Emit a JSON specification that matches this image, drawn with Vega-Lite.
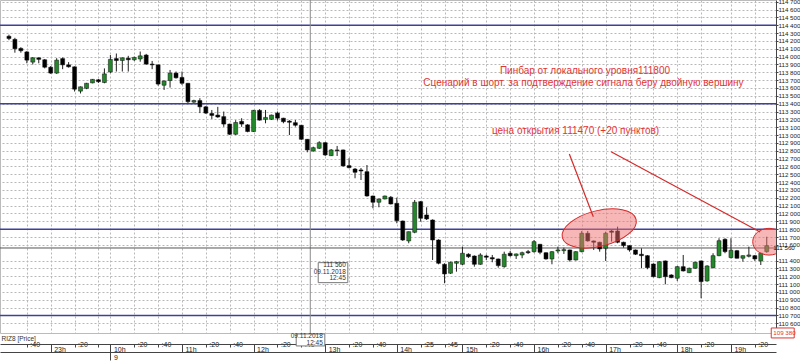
{
  "$schema": "https://vega.github.io/schema/vega-lite/v6.json",
  "width": 776,
  "height": 333,
  "autosize": {"type": "none"},
  "padding": {"left": 0, "top": 0, "right": 24, "bottom": 30},
  "background": "white",
  "config": {"view": {"stroke": "#bbbbbb"}, "font": "Liberation Sans", "axis": {"labelOverlap": false, "labelFlush": false}},
  "datasets": {
    "candles": [
      {"i":0,"o":114260,"h":114280,"l":114210,"c":114230},
      {"i":1,"o":114220,"h":114240,"l":114050,"c":114100},
      {"i":2,"o":114105,"h":114120,"l":114050,"c":114075},
      {"i":3,"o":114060,"h":114070,"l":113915,"c":113955},
      {"i":4,"o":113930,"h":113995,"l":113900,"c":113985},
      {"i":5,"o":113985,"h":113990,"l":113915,"c":113965},
      {"i":6,"o":113960,"h":113970,"l":113850,"c":113865},
      {"i":7,"o":113865,"h":113880,"l":113780,"c":113790},
      {"i":8,"o":113790,"h":113980,"l":113780,"c":113955},
      {"i":9,"o":113975,"h":113990,"l":113840,"c":113895},
      {"i":10,"o":113895,"h":113930,"l":113860,"c":113870},
      {"i":11,"o":113870,"h":113875,"l":113555,"c":113585},
      {"i":12,"o":113560,"h":113620,"l":113530,"c":113615},
      {"i":13,"o":113595,"h":113665,"l":113585,"c":113660},
      {"i":14,"o":113665,"h":113715,"l":113660,"c":113710},
      {"i":15,"o":113705,"h":113715,"l":113665,"c":113680},
      {"i":16,"o":113670,"h":113850,"l":113660,"c":113780},
      {"i":17,"o":113805,"h":114020,"l":113790,"c":113965},
      {"i":18,"o":113975,"h":114040,"l":113810,"c":113950},
      {"i":19,"o":113950,"h":113990,"l":113810,"c":113985},
      {"i":20,"o":113980,"h":114010,"l":113810,"c":113960},
      {"i":21,"o":113960,"h":114000,"l":113945,"c":113990},
      {"i":22,"o":113970,"h":114065,"l":113935,"c":114010},
      {"i":23,"o":114020,"h":114035,"l":113895,"c":113905},
      {"i":24,"o":113905,"h":113945,"l":113840,"c":113895},
      {"i":25,"o":113895,"h":113900,"l":113630,"c":113650},
      {"i":26,"o":113635,"h":113695,"l":113575,"c":113690},
      {"i":27,"o":113695,"h":113830,"l":113605,"c":113790},
      {"i":28,"o":113790,"h":113810,"l":113720,"c":113730},
      {"i":29,"o":113735,"h":113810,"l":113640,"c":113660},
      {"i":30,"o":113660,"h":113665,"l":113405,"c":113425},
      {"i":31,"o":113420,"h":113450,"l":113410,"c":113440},
      {"i":32,"o":113440,"h":113470,"l":113280,"c":113360},
      {"i":33,"o":113360,"h":113370,"l":113270,"c":113280},
      {"i":34,"o":113275,"h":113320,"l":113205,"c":113250},
      {"i":35,"o":113255,"h":113360,"l":113220,"c":113230},
      {"i":36,"o":113235,"h":113300,"l":113105,"c":113140},
      {"i":37,"o":113140,"h":113145,"l":113000,"c":113010},
      {"i":38,"o":113010,"h":113190,"l":113000,"c":113160},
      {"i":39,"o":113175,"h":113215,"l":113105,"c":113140},
      {"i":40,"o":113130,"h":113140,"l":113035,"c":113045},
      {"i":41,"o":113045,"h":113320,"l":113040,"c":113315},
      {"i":42,"o":113315,"h":113330,"l":113185,"c":113190},
      {"i":43,"o":113200,"h":113320,"l":113150,"c":113225},
      {"i":44,"o":113200,"h":113260,"l":113195,"c":113255},
      {"i":45,"o":113280,"h":113300,"l":113185,"c":113215},
      {"i":46,"o":113215,"h":113220,"l":113150,"c":113170},
      {"i":47,"o":113178,"h":113190,"l":113000,"c":113163},
      {"i":48,"o":113158,"h":113192,"l":113107,"c":113125},
      {"i":49,"o":113125,"h":113128,"l":112937,"c":112946},
      {"i":50,"o":112946,"h":112950,"l":112780,"c":112810},
      {"i":51,"o":112797,"h":112852,"l":112788,"c":112839},
      {"i":52,"o":112831,"h":112921,"l":112822,"c":112903},
      {"i":53,"o":112903,"h":112910,"l":112733,"c":112746},
      {"i":54,"o":112737,"h":112822,"l":112733,"c":112810},
      {"i":55,"o":112810,"h":112861,"l":112733,"c":112801},
      {"i":56,"o":112810,"h":112815,"l":112597,"c":112606},
      {"i":57,"o":112610,"h":112704,"l":112576,"c":112584},
      {"i":58,"o":112567,"h":112580,"l":112449,"c":112525},
      {"i":59,"o":112555,"h":112580,"l":112427,"c":112542},
      {"i":60,"o":112533,"h":112618,"l":112214,"c":112223},
      {"i":61,"o":112223,"h":112228,"l":112066,"c":112143},
      {"i":62,"o":112143,"h":112190,"l":112079,"c":112185},
      {"i":63,"o":112185,"h":112228,"l":112180,"c":112223},
      {"i":64,"o":112207,"h":112223,"l":112115,"c":112121},
      {"i":65,"o":112130,"h":112202,"l":111875,"c":111908},
      {"i":66,"o":111904,"h":111910,"l":111650,"c":111662},
      {"i":67,"o":111650,"h":111770,"l":111620,"c":111768},
      {"i":68,"o":111760,"h":112172,"l":111748,"c":112143},
      {"i":69,"o":112151,"h":112160,"l":111896,"c":111939},
      {"i":70,"o":111981,"h":112079,"l":111917,"c":111930},
      {"i":71,"o":111917,"h":111925,"l":111407,"c":111662},
      {"i":72,"o":111662,"h":111670,"l":111352,"c":111365},
      {"i":73,"o":111352,"h":111365,"l":111110,"c":111229},
      {"i":74,"o":111238,"h":111386,"l":111230,"c":111378},
      {"i":75,"o":111365,"h":111395,"l":111258,"c":111386},
      {"i":76,"o":111352,"h":111577,"l":111343,"c":111493},
      {"i":77,"o":111480,"h":111493,"l":111433,"c":111449},
      {"i":78,"o":111458,"h":111465,"l":111322,"c":111352},
      {"i":79,"o":111352,"h":111493,"l":111345,"c":111471},
      {"i":80,"o":111458,"h":111475,"l":111407,"c":111442},
      {"i":81,"o":111437,"h":111471,"l":111378,"c":111420},
      {"i":82,"o":111420,"h":111425,"l":111309,"c":111335},
      {"i":83,"o":111322,"h":111513,"l":111309,"c":111480},
      {"i":84,"o":111493,"h":111522,"l":111449,"c":111462},
      {"i":85,"o":111462,"h":111490,"l":111420,"c":111484},
      {"i":86,"o":111471,"h":111513,"l":111429,"c":111500},
      {"i":87,"o":111513,"h":111535,"l":111484,"c":111500},
      {"i":88,"o":111513,"h":111662,"l":111500,"c":111641},
      {"i":89,"o":111607,"h":111612,"l":111480,"c":111505},
      {"i":90,"o":111500,"h":111505,"l":111411,"c":111420},
      {"i":91,"o":111420,"h":111520,"l":111352,"c":111513},
      {"i":92,"o":111522,"h":111577,"l":111493,"c":111535},
      {"i":93,"o":111526,"h":111564,"l":111484,"c":111539},
      {"i":94,"o":111535,"h":111540,"l":111386,"c":111407},
      {"i":95,"o":111407,"h":111520,"l":111400,"c":111513},
      {"i":96,"o":111513,"h":111777,"l":111505,"c":111748},
      {"i":97,"o":111748,"h":111777,"l":111640,"c":111650},
      {"i":98,"o":111650,"h":111655,"l":111535,"c":111633},
      {"i":99,"o":111633,"h":111640,"l":111513,"c":111548},
      {"i":100,"o":111556,"h":111768,"l":111395,"c":111748},
      {"i":101,"o":111777,"h":111790,"l":111641,"c":111760},
      {"i":102,"o":111777,"h":111832,"l":111620,"c":111633},
      {"i":103,"o":111633,"h":111640,"l":111564,"c":111590},
      {"i":104,"o":111590,"h":111595,"l":111513,"c":111535},
      {"i":105,"o":111535,"h":111540,"l":111470,"c":111480},
      {"i":106,"o":111480,"h":111556,"l":111301,"c":111462},
      {"i":107,"o":111462,"h":111470,"l":111289,"c":111309},
      {"i":108,"o":111356,"h":111365,"l":111186,"c":111194},
      {"i":109,"o":111182,"h":111390,"l":111175,"c":111386},
      {"i":110,"o":111395,"h":111400,"l":111097,"c":111194},
      {"i":111,"o":111216,"h":111225,"l":111175,"c":111182},
      {"i":112,"o":111174,"h":111330,"l":111140,"c":111322},
      {"i":113,"o":111322,"h":111471,"l":111260,"c":111267},
      {"i":114,"o":111245,"h":111310,"l":111240,"c":111301},
      {"i":115,"o":111301,"h":111385,"l":111295,"c":111378},
      {"i":116,"o":111395,"h":111400,"l":110919,"c":111131},
      {"i":117,"o":111140,"h":111340,"l":111130,"c":111331},
      {"i":118,"o":111309,"h":111493,"l":111300,"c":111462},
      {"i":119,"o":111462,"h":111684,"l":111455,"c":111653},
      {"i":120,"o":111671,"h":111684,"l":111493,"c":111513},
      {"i":121,"o":111437,"h":111684,"l":111427,"c":111531},
      {"i":122,"o":111526,"h":111535,"l":111425,"c":111429},
      {"i":123,"o":111429,"h":111465,"l":111386,"c":111462},
      {"i":124,"o":111454,"h":111577,"l":111440,"c":111471},
      {"i":125,"o":111462,"h":111470,"l":111395,"c":111420},
      {"i":126,"o":111395,"h":111500,"l":111343,"c":111493},
      {"i":127,"o":111513,"h":111704,"l":111500,"c":111590}
    ],
    "hlines": [{"v":114400},{"v":113400},{"v":111800},{"v":110700}],
    "texts": [
      {"i":96.53,"p":113823,"t":"Пинбар от локального уровня111800"},
      {"i":96.28,"p":113660,"t":"Сценарий в шорт. за подтверждение сигнала беру двойную вершину"},
      {"i":94.95,"p":113058,"t":"цена открытия 111470 (+20 пунктов)"}
    ],
    "redlines": [
      {"i":93.91,"p":112758,"i2":97.93,"p2":111959},
      {"i":100.91,"p":112788,"i2":125.89,"p2":111764}
    ],
    "ell1": [{"i":98.92,"p":111809}],
    "ell2": [{"i":127.38,"p":111640}],
    "box1": [{"i":51.83,"i2":56.79,"p":111373,"p2":111118}],
    "box1t": [{"i":56.45,"p":111343,"t":"111 560"},{"i":56.45,"p":111258,"t":"09.11.2018"},{"i":56.45,"p":111174,"t":"12:45"}],
    "box2": [{"i":48.14,"i2":52.94,"p":110464,"p2":110311}],
    "box2t": [{"i":52.6,"p":110442,"t":"09.11.2018"},{"i":52.6,"p":110345,"t":"12:45"}],
    "redbox": [{"i":127.75,"i2":131.6,"p":110540,"p2":110413}],
    "redboxt": [{"i":128.1,"p":110476,"t":"109 380"}],
    "crossy": [{"i":128.1,"p":111560,"t":"111 560"}]
  },
  "resolve": {"axis": {"x": "independent", "y": "independent"}},
  "layer": [
    {
      "data": {"name": "hlines"},
      "mark": {"type": "rule", "color": "#40409c", "strokeWidth": 1.5},
      "encoding": {
        "y": {"field": "v", "type": "quantitative",
          "scale": {"domain": [110476, 114722], "nice": false, "zero": false},
          "axis": {
            "orient": "right",
            "values": [110600,110700,110800,110900,111000,111100,111200,111300,111400,111600,111700,111800,111900,112000,112100,112200,112300,112400,112500,112600,112700,112800,112900,113000,113100,113200,113300,113400,113500,113600,113700,113800,113900,114000,114100,114200,114300,114400,114500,114600,114700],
            "labelExpr": "replace(format(datum.value, ',d'), ',', ' ')",
            "grid": true, "gridColor": "#b8b8b8", "gridDash": [2, 2],
            "domainColor": "#444", "tickColor": "#444", "tickSize": 2,
            "labelPadding": 0, "labelFontSize": 6.2, "labelColor": "#222",
            "labelBaseline": "middle", "labelFlush": false, "labelOverlap": false,
            "title": null
          }
        }
      }
    },
    {
      "data": {"values": [{"i": 50.5}]},
      "mark": {"type": "rule", "color": "#8a8a8a", "strokeWidth": 1},
      "encoding": {
        "x": {"field": "i", "type": "quantitative",
          "scale": {"domain": [-0.66, 127.71], "nice": false, "zero": false},
          "axis": {
            "orient": "bottom", "offset": 19, "values": [17], "labelExpr": "'9'",
            "grid": false, "domainColor": "#444", "tickColor": "#444", "tickSize": 8,
            "labelAlign": "left", "labelBaseline": "top", "labelPadding": -7, "labelOffset": 3,
            "labelFontSize": 7, "labelColor": "#222", "title": null
          }
        }
      }
    },
    {
      "data": {"values": [{"v": 111560}]},
      "mark": {"type": "rule", "color": "#555555", "strokeWidth": 1},
      "encoding": {"y": {"field": "v", "type": "quantitative", "scale": {"domain": [110476, 114722], "nice": false, "zero": false}, "axis": null}}
    },
    {
      "data": {"name": "candles"},
      "mark": {"type": "rule", "color": "#222222", "strokeWidth": 1},
      "encoding": {
        "x": {"field": "i", "type": "quantitative", "scale": {"domain": [-0.66, 127.71], "nice": false, "zero": false}, "axis": null},
        "y": {"field": "l", "type": "quantitative", "scale": {"domain": [110476, 114722], "nice": false, "zero": false}, "axis": null},
        "y2": {"field": "h"}
      }
    },
    {
      "data": {"name": "candles"},
      "mark": {"type": "bar", "size": 4, "stroke": "#111111", "strokeWidth": 0.5},
      "encoding": {
        "x": {"field": "i", "type": "quantitative",
          "scale": {"domain": [-0.66, 127.71], "nice": false, "zero": false},
          "axis": {
            "orient": "bottom", "offset": 11,
            "values": [3,7,11,15,17,21,25,29,33,37,41,45,49,53,57,61,65,69,73,76,80,84,88,92,96,100,104,108,112,116,121,125],
            "labelExpr": "[':40','23h',':20','','10h',':20',':40','11h',':20',':40','12h',':20',':40','13h',':20',':40','14h',':25',':45','15h',':20',':40','16h',':20',':40','17h',':20',':40','18h',':20','19h',':20'][indexof([3,7,11,15,17,21,25,29,33,37,41,45,49,53,57,61,65,69,73,76,80,84,88,92,96,100,104,108,112,116,121,125], datum.value)]",
            "grid": true, "gridColor": "#b8b8b8", "gridDash": [2, 2],
            "domainColor": "#444", "tickColor": "#444",
            "tickSize": {"condition": {"test": "indexof([7,17,29,41,53,65,76,88,100,112,121], datum.value) >= 0", "value": 8}, "value": 3},
            "labelAlign": "left", "labelBaseline": "top", "labelPadding": -7, "labelOffset": 3,
            "labelFontSize": 7, "labelColor": "#222", "labelOverlap": false, "labelFlush": false,
            "title": "RIZ8 [Price]", "titleFontSize": 6.5, "titleFontWeight": "normal", "titleColor": "#333",
            "titleX": 1, "titleY": -6, "titleAlign": "left", "titleAnchor": "start", "titleBaseline": "middle"
          }
        },
        "y": {"field": "o", "type": "quantitative", "scale": {"domain": [110476, 114722], "nice": false, "zero": false}, "axis": null},
        "y2": {"field": "c"},
        "color": {"condition": {"test": "datum.c >= datum.o", "value": "#22882a"}, "value": "#000000"}
      }
    },
    {
      "data": {"name": "ell1"},
      "mark": {"type": "point", "filled": true, "clip": true, "angle": -14, "size": 5776,
        "shape": "M-1,0C-1,-0.26,-0.552,-0.47,0,-0.47C0.552,-0.47,1,-0.26,1,0C1,0.26,0.552,0.47,0,0.47C-0.552,0.47,-1,0.26,-1,0Z",
        "fill": "#f07070", "fillOpacity": 0.5, "stroke": "#d42a2a", "strokeWidth": 1, "opacity": 1},
      "encoding": {
        "x": {"field": "i", "type": "quantitative", "scale": {"domain": [-0.66, 127.71], "nice": false, "zero": false}, "axis": null},
        "y": {"field": "p", "type": "quantitative", "scale": {"domain": [110476, 114722], "nice": false, "zero": false}, "axis": null}
      }
    },
    {
      "data": {"name": "ell2"},
      "mark": {"type": "point", "filled": true, "clip": true, "size": 1063,
        "shape": "M-1,0C-1,-0.453,-0.552,-0.82,0,-0.82C0.552,-0.82,1,-0.453,1,0C1,0.453,0.552,0.82,0,0.82C-0.552,0.82,-1,0.453,-1,0Z",
        "fill": "#f07070", "fillOpacity": 0.5, "stroke": "#d42a2a", "strokeWidth": 1, "opacity": 1},
      "encoding": {
        "x": {"field": "i", "type": "quantitative", "scale": {"domain": [-0.66, 127.71], "nice": false, "zero": false}, "axis": null},
        "y": {"field": "p", "type": "quantitative", "scale": {"domain": [110476, 114722], "nice": false, "zero": false}, "axis": null}
      }
    },
    {
      "data": {"name": "redlines"},
      "mark": {"type": "rule", "color": "#d42a2a", "strokeWidth": 1.2},
      "encoding": {
        "x": {"field": "i", "type": "quantitative", "scale": {"domain": [-0.66, 127.71], "nice": false, "zero": false}, "axis": null},
        "y": {"field": "p", "type": "quantitative", "scale": {"domain": [110476, 114722], "nice": false, "zero": false}, "axis": null},
        "x2": {"field": "i2"},
        "y2": {"field": "p2"}
      }
    },
    {
      "data": {"name": "texts"},
      "mark": {"type": "text", "fontSize": 10, "color": "#e03535", "align": "center", "baseline": "middle", "font": "Liberation Sans"},
      "encoding": {
        "x": {"field": "i", "type": "quantitative", "scale": {"domain": [-0.66, 127.71], "nice": false, "zero": false}, "axis": null},
        "y": {"field": "p", "type": "quantitative", "scale": {"domain": [110476, 114722], "nice": false, "zero": false}, "axis": null},
        "text": {"field": "t"}
      }
    },
    {
      "data": {"name": "box1"},
      "mark": {"type": "rect", "fill": "white", "stroke": "#777777", "strokeWidth": 1},
      "encoding": {
        "x": {"field": "i", "type": "quantitative", "scale": {"domain": [-0.66, 127.71], "nice": false, "zero": false}, "axis": null},
        "x2": {"field": "i2"},
        "y": {"field": "p", "type": "quantitative", "scale": {"domain": [110476, 114722], "nice": false, "zero": false}, "axis": null},
        "y2": {"field": "p2"}
      }
    },
    {
      "data": {"name": "box1t"},
      "mark": {"type": "text", "fontSize": 6.5, "color": "#333333", "align": "right", "baseline": "middle"},
      "encoding": {
        "x": {"field": "i", "type": "quantitative", "scale": {"domain": [-0.66, 127.71], "nice": false, "zero": false}, "axis": null},
        "y": {"field": "p", "type": "quantitative", "scale": {"domain": [110476, 114722], "nice": false, "zero": false}, "axis": null},
        "text": {"field": "t"}
      }
    },
    {
      "data": {"name": "box2"},
      "mark": {"type": "rect", "fill": "white", "stroke": "#777777", "strokeWidth": 1},
      "encoding": {
        "x": {"field": "i", "type": "quantitative", "scale": {"domain": [-0.66, 127.71], "nice": false, "zero": false}, "axis": null},
        "x2": {"field": "i2"},
        "y": {"field": "p", "type": "quantitative", "scale": {"domain": [110476, 114722], "nice": false, "zero": false}, "axis": null},
        "y2": {"field": "p2"}
      }
    },
    {
      "data": {"name": "box2t"},
      "mark": {"type": "text", "fontSize": 6.5, "color": "#333333", "align": "right", "baseline": "middle"},
      "encoding": {
        "x": {"field": "i", "type": "quantitative", "scale": {"domain": [-0.66, 127.71], "nice": false, "zero": false}, "axis": null},
        "y": {"field": "p", "type": "quantitative", "scale": {"domain": [110476, 114722], "nice": false, "zero": false}, "axis": null},
        "text": {"field": "t"}
      }
    },
    {
      "data": {"name": "redbox"},
      "mark": {"type": "rect", "fill": "white", "stroke": "#e03535", "strokeWidth": 1},
      "encoding": {
        "x": {"field": "i", "type": "quantitative", "scale": {"domain": [-0.66, 127.71], "nice": false, "zero": false}, "axis": null},
        "x2": {"field": "i2"},
        "y": {"field": "p", "type": "quantitative", "scale": {"domain": [110476, 114722], "nice": false, "zero": false}, "axis": null},
        "y2": {"field": "p2"}
      }
    },
    {
      "data": {"name": "redboxt"},
      "mark": {"type": "text", "fontSize": 6.2, "color": "#e03535", "align": "left", "baseline": "middle"},
      "encoding": {
        "x": {"field": "i", "type": "quantitative", "scale": {"domain": [-0.66, 127.71], "nice": false, "zero": false}, "axis": null},
        "y": {"field": "p", "type": "quantitative", "scale": {"domain": [110476, 114722], "nice": false, "zero": false}, "axis": null},
        "text": {"field": "t"}
      }
    },
    {
      "data": {"name": "crossy"},
      "mark": {"type": "text", "fontSize": 6.2, "color": "#111111", "align": "left", "baseline": "middle"},
      "encoding": {
        "x": {"field": "i", "type": "quantitative", "scale": {"domain": [-0.66, 127.71], "nice": false, "zero": false}, "axis": null},
        "y": {"field": "p", "type": "quantitative", "scale": {"domain": [110476, 114722], "nice": false, "zero": false}, "axis": null},
        "text": {"field": "t"}
      }
    }
  ]
}
